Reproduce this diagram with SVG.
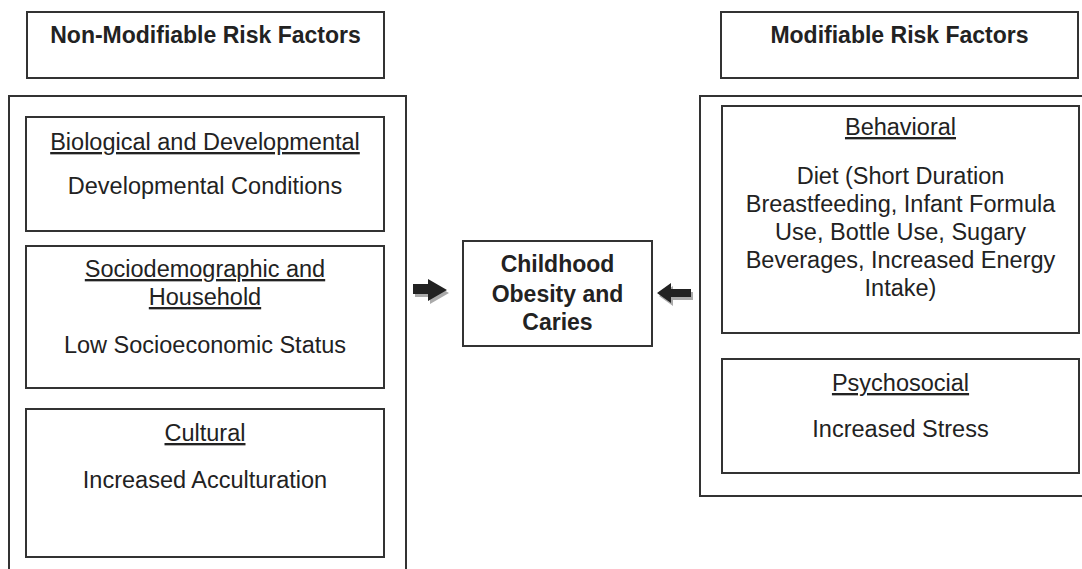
<svg xmlns="http://www.w3.org/2000/svg" width="1082" height="569" viewBox="0 0 1082 569">
<style>
.box{fill:#fff;stroke:#333;stroke-width:2}
.frame{fill:none;stroke:#333;stroke-width:2}
text{font-family:"Liberation Sans",Arial,sans-serif;fill:#222;text-anchor:middle}
.h{font-weight:bold;font-size:23px}
.t{font-size:23.5px}
.u{text-decoration:underline}
.shadow{fill:#aaa}
.arrow{fill:#222}
</style>
<rect width="1082" height="569" fill="#fff"/>
<g id="left-frame"><path class="frame" d="M9,570 V96 H406 V570"/></g>
<g id="right-frame"><path class="frame" d="M1084,96 H700 V496 H1084"/></g>
<g id="nonmod-header">
<rect class="box" x="27" y="12" width="357" height="66"/>
<text class="h" x="205.5" y="43">Non-Modifiable Risk Factors</text>
</g>
<g id="mod-header">
<rect class="box" x="721" y="12" width="357" height="66"/>
<text class="h" x="899.5" y="43">Modifiable Risk Factors</text>
</g>
<g id="biological">
<rect class="box" x="26" y="117" width="358" height="114"/>
<text class="t u" x="205" y="150">Biological and Developmental</text>
<text class="t" x="205" y="194">Developmental Conditions</text>
</g>
<g id="sociodemographic">
<rect class="box" x="26" y="246" width="358" height="142"/>
<text class="t u" x="205" y="277">Sociodemographic and</text>
<text class="t u" x="205" y="305">Household</text>
<text class="t" x="205" y="353">Low Socioeconomic Status</text>
</g>
<g id="cultural">
<rect class="box" x="26" y="409" width="358" height="148"/>
<text class="t u" x="205" y="441">Cultural</text>
<text class="t" x="205" y="488">Increased Acculturation</text>
</g>
<g id="outcome">
<rect class="box" x="463" y="241" width="189" height="105"/>
<text class="h" x="557.5" y="272">Childhood</text>
<text class="h" x="557.5" y="302">Obesity and</text>
<text class="h" x="557.5" y="330">Caries</text>
</g>
<g id="behavioral">
<rect class="box" x="722" y="106" width="357" height="227"/>
<text class="t u" x="900.5" y="135">Behavioral</text>
<text class="t" x="900.5" y="184">Diet (Short Duration</text>
<text class="t" x="900.5" y="212">Breastfeeding, Infant Formula</text>
<text class="t" x="900.5" y="240">Use, Bottle Use, Sugary</text>
<text class="t" x="900.5" y="268">Beverages, Increased Energy</text>
<text class="t" x="900.5" y="296">Intake)</text>
</g>
<g id="psychosocial">
<rect class="box" x="722" y="359" width="357" height="114"/>
<text class="t u" x="900.5" y="391">Psychosocial</text>
<text class="t" x="900.5" y="437">Increased Stress</text>
</g>
<g id="connectors">
<polygon class="shadow" points="415,287 430,287 430,282 449,293 430,304 430,297 415,297"/>
<polygon class="arrow" points="413,284 428,284 428,279 447,290 428,301 428,294 413,294"/>
<polygon class="shadow" points="659,296 673,286 673,292 693,292 693,300 673,300 673,306"/>
<polygon class="arrow" points="657,293 671,283 671,289 691,289 691,297 671,297 671,303"/>
</g>
</svg>
